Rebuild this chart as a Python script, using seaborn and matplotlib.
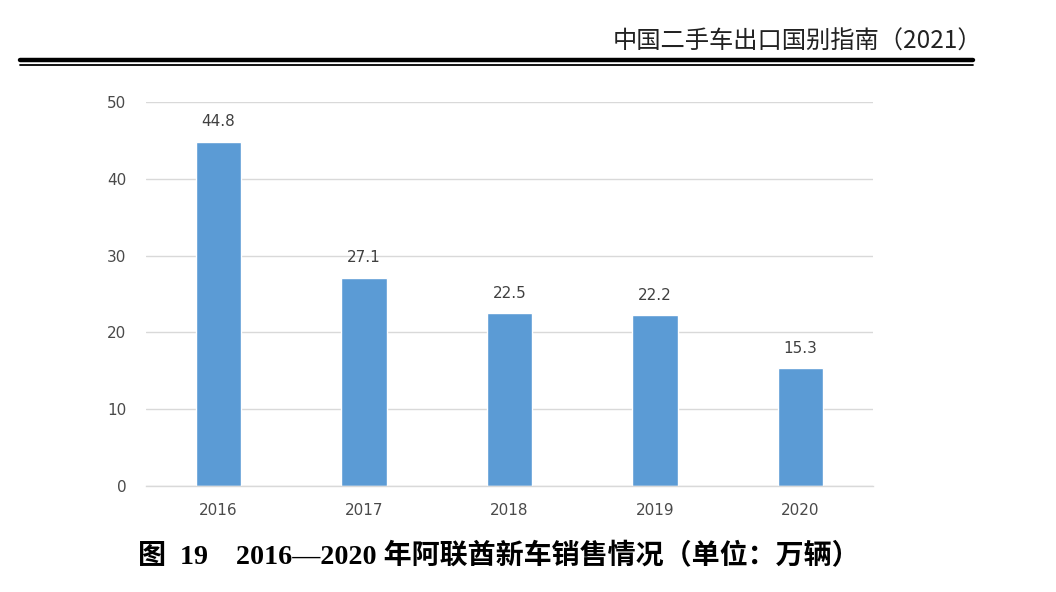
import matplotlib
matplotlib.use('Agg')
import matplotlib.pyplot as plt
import pandas as pd
import seaborn as sns

# dados do gráfico
years = ['2016', '2017', '2018', '2019', '2020']
sales = [44.8, 27.1, 22.5, 22.2, 15.3]
y_ticks = [0, 10, 20, 30, 40, 50]

header_text = '中国二手车出口国别指南（2021）'
caption_text = '图  19    2016—2020 年阿联酋新车销售情况（单位：万辆）'

sns.set_theme(style='white')
plt.rcParams['font.family'] = ['DejaVu Sans', 'Noto Sans CJK SC']

df = pd.DataFrame({'year': years, 'sales': sales})

fig = plt.figure(figsize=(10.56, 5.92), dpi=100)
ax = fig.add_axes([0.138, 0.179, 0.689, 0.649])

sns.barplot(data=df, x='year', y='sales', color='#5B9BD5', width=0.31,
            saturation=1, ax=ax)

ax.set_ylim(0, 50)
ax.set_yticks(y_ticks)
ax.grid(axis='y', color='#D9D9D9', linewidth=1)
ax.set_axisbelow(True)
for side in ['left', 'right', 'top']:
	ax.spines[side].set_visible(False)
ax.spines['bottom'].set_color('#D9D9D9')
ax.spines['bottom'].set_linewidth(1)
ax.tick_params(axis='both', length=0, labelsize=11, colors='#4a4a4a')
ax.tick_params(axis='y', pad=14)
ax.tick_params(axis='x', pad=12)
ax.set_xlabel('')
ax.set_ylabel('')

# rótulos de valor
for i, v in enumerate(sales):
	ax.annotate(f'{v:.1f}', (i, v), xytext=(0, 9), textcoords='offset points',
				ha='center', va='bottom', fontsize=11, color='#404040')

# cabeçalho e linhas duplas
fig.text(0.93, 0.93, header_text, ha='right', va='center', fontsize=17.5,
		 color='#222222', family=['Noto Sans CJK SC'], fontweight='light')
fig.add_artist(plt.Line2D([0.019, 0.921], [0.898, 0.898], color='black',
						  linewidth=3.2, transform=fig.transFigure))
fig.add_artist(plt.Line2D([0.019, 0.921], [0.890, 0.890], color='black',
						  linewidth=1.3, transform=fig.transFigure))

# legenda da figura
fig.text(0.472, 0.06, caption_text, ha='center', va='center', fontsize=20.2,
		 fontweight='heavy', color='black',
		 family=['Liberation Serif', 'Noto Sans CJK SC'])

fig.savefig('out.png', dpi=100)
